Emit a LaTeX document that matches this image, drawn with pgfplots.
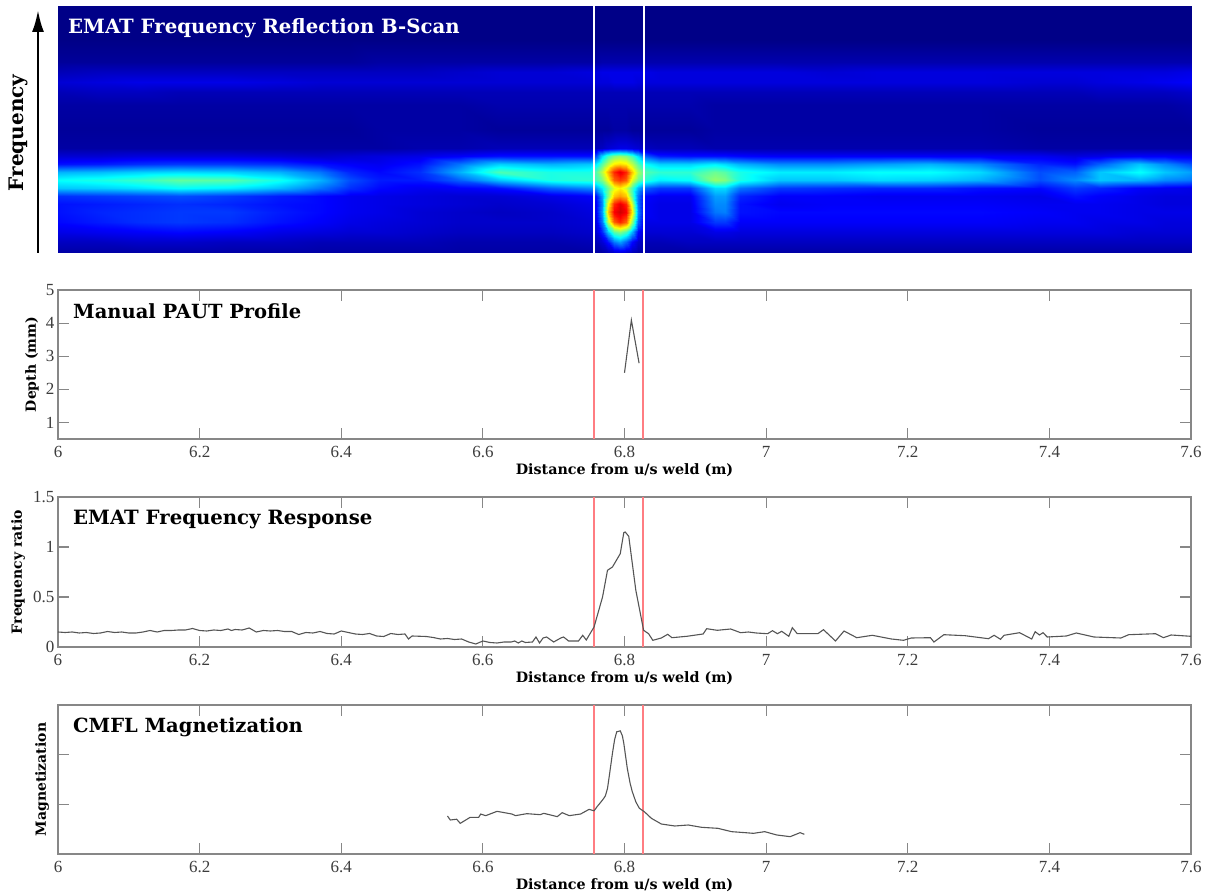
\documentclass[border=0pt]{standalone}
\usepackage{pgfplots}
\pgfplotsset{compat=1.18}
\usepackage{fontspec}
\setmainfont{Liberation Serif}
\newfontfamily\bk{DejaVu Serif}
\usetikzlibrary{arrows.meta}
\definecolor{axg}{RGB}{135,135,135}
\definecolor{tl}{RGB}{60,60,60}
\definecolor{rl}{RGB}{255,125,130}
\definecolor{cv}{RGB}{85,85,85}
\pgfplotsset{
 colormap={jetx}{rgb255(0cm)=(0,0,135) rgb255(1cm)=(0,0,255) rgb255(3cm)=(0,255,255) rgb255(5cm)=(255,255,0) rgb255(7cm)=(255,0,0) rgb255(8cm)=(128,0,0)},
 panel/.style={scale only axis,width=1133pt,xmin=6,xmax=7.6,
  xtick={6,6.2,6.4,6.6,6.8,7,7.2,7.4,7.6},
  tick align=inside,major tick length=11pt,
  tick style={axg,line width=1.2pt},
  axis line style={axg,line width=1.5pt},
  /pgf/number format/assume math mode=true,
  tick label style={font=\fontsize{17}{19}\selectfont,text=tl},
  xticklabel style={yshift=-4pt},
  every axis x label/.style={at={(axis description cs:0.5,0)},anchor=center,yshift=-31pt,font=\bk\bfseries\fontsize{14.3}{16}\selectfont},
  xlabel={Distance from u/s weld (m)},
 },
 yl/.style={every axis y label/.style={at={(axis description cs:#1,0.5)},rotate=90,anchor=center,font=\bk\bfseries\fontsize{14}{16}\selectfont}},
 redl/.style={rl,line width=1.2pt,forget plot},
 curve/.style={cv,line width=1.1pt,forget plot},
}
\begin{document}
\begin{tikzpicture}[x=1pt,y=1pt]
\path[use as bounding box] (0,0) rectangle (1209,894);
\begin{axis}[at={(58pt,641pt)},anchor=south west,scale only axis,width=1134pt,height=247pt,
 xmin=6,xmax=7.602,ymin=0,ymax=247,hide axis,view={0}{90},colormap name=jetx,point meta min=0,point meta max=100]
\addplot3[surf,shader=interp,mesh/cols=39,forget plot] table[x index=0,y index=1,z index=2] {
x y z
6.000 0 3
6.060 0 3
6.116 0 3
6.173 0 3
6.243 0 3
6.314 0 3
6.370 0 3
6.413 0 3
6.455 0 3
6.512 0 3
6.568 0 3
6.625 0 3
6.696 0 3
6.752 0 3
6.760 0 3
6.769 0 3
6.777 0 5
6.786 0 7
6.794 0 8
6.803 0 7
6.811 0 5
6.820 0 3
6.828 0 3
6.851 0 3
6.893 0 3
6.928 0 3
6.942 0 3
6.964 0 3
7.020 0 3
7.091 0 3
7.161 0 3
7.232 0 3
7.303 0 3
7.387 0 3
7.437 0 3
7.472 0 3
7.529 0 3
7.564 0 3
7.602 0 3
6.000 11 6
6.060 11 6
6.116 11 7
6.173 11 7
6.243 11 6
6.314 11 6
6.370 11 5
6.413 11 5
6.455 11 5
6.512 11 5
6.568 11 4
6.625 11 4
6.696 11 4
6.752 11 5
6.760 11 5
6.769 11 8
6.777 11 14
6.786 11 24
6.794 11 28
6.803 11 22
6.811 11 13
6.820 11 7
6.828 11 5
6.851 11 5
6.893 11 6
6.928 11 6
6.942 11 6
6.964 11 6
7.020 11 6
7.091 11 6
7.161 11 6
7.232 11 6
7.303 11 6
7.387 11 6
7.437 11 6
7.472 11 6
7.529 11 6
7.564 11 6
7.602 11 6
6.000 21 10
6.060 21 11
6.116 21 12
6.173 21 13
6.243 21 12
6.314 21 10
6.370 21 9
6.413 21 8
6.455 21 8
6.512 21 7
6.568 21 6
6.625 21 6
6.696 21 6
6.752 21 7
6.760 21 8
6.769 21 16
6.777 21 32
6.786 21 46
6.794 21 50
6.803 21 44
6.811 21 30
6.820 21 13
6.828 21 8
6.851 21 8
6.893 21 8
6.928 21 10
6.942 21 10
6.964 21 9
7.020 21 9
7.091 21 9
7.161 21 9
7.232 21 9
7.303 21 9
7.387 21 9
7.437 21 9
7.472 21 9
7.529 21 8
7.564 21 8
7.602 21 8
6.000 31 13
6.060 31 15
6.116 31 17
6.173 31 18
6.243 31 17
6.314 31 14
6.370 31 12
6.413 31 10
6.455 31 9
6.512 31 8
6.568 31 7
6.625 31 7
6.696 31 7
6.752 31 8
6.760 31 10
6.769 31 24
6.777 31 56
6.786 31 78
6.794 31 84
6.803 31 78
6.811 31 52
6.820 31 22
6.828 31 10
6.851 31 10
6.893 31 10
6.928 31 18
6.942 31 18
6.964 31 12
7.020 31 12
7.091 31 12
7.161 31 12
7.232 31 12
7.303 31 12
7.387 31 11
7.437 31 11
7.472 31 10
7.529 31 10
7.564 31 9
7.602 31 9
6.000 41 14
6.060 41 16
6.116 41 17
6.173 41 18
6.243 41 18
6.314 41 15
6.370 41 13
6.413 41 11
6.455 41 10
6.512 41 8
6.568 41 7
6.625 41 6
6.696 41 7
6.752 41 9
6.760 41 12
6.769 41 28
6.777 41 68
6.786 41 88
6.794 41 92
6.803 41 88
6.811 41 64
6.820 41 26
6.828 41 12
6.851 41 10
6.893 41 10
6.928 41 24
6.942 41 25
6.964 41 14
7.020 41 13
7.091 41 13
7.161 41 13
7.232 41 13
7.303 41 13
7.387 41 12
7.437 41 11
7.472 41 11
7.529 41 10
7.564 41 10
7.602 41 10
6.000 49 14
6.060 49 15
6.116 49 16
6.173 49 17
6.243 49 16
6.314 49 14
6.370 49 13
6.413 49 11
6.455 49 10
6.512 49 9
6.568 49 8
6.625 49 7
6.696 49 8
6.752 49 10
6.760 49 12
6.769 49 26
6.777 49 62
6.786 49 84
6.794 49 90
6.803 49 84
6.811 49 58
6.820 49 24
6.828 49 12
6.851 49 10
6.893 49 10
6.928 49 26
6.942 49 26
6.964 49 14
7.020 49 11
7.091 49 12
7.161 49 12
7.232 49 12
7.303 49 12
7.387 49 11
7.437 49 11
7.472 49 11
7.529 49 10
7.564 49 9
7.602 49 9
6.000 57 17
6.060 57 18
6.116 57 19
6.173 57 20
6.243 57 18
6.314 57 15
6.370 57 13
6.413 57 11
6.455 57 10
6.512 57 9
6.568 57 8
6.625 57 8
6.696 57 10
6.752 57 12
6.760 57 14
6.769 57 28
6.777 57 50
6.786 57 68
6.794 57 72
6.803 57 68
6.811 57 46
6.820 57 24
6.828 57 13
6.851 57 11
6.893 57 11
6.928 57 28
6.942 57 28
6.964 57 16
7.020 57 12
7.091 57 12
7.161 57 11
7.232 57 11
7.303 57 11
7.387 57 10
7.437 57 14
7.472 57 12
7.529 57 10
7.564 57 9
7.602 57 9
6.000 65 32
6.060 65 33
6.116 65 35
6.173 65 38
6.243 65 36
6.314 65 31
6.370 65 24
6.413 65 17
6.455 65 13
6.512 65 11
6.568 65 12
6.625 65 14
6.696 65 22
6.752 65 26
6.760 65 28
6.769 65 36
6.777 65 48
6.786 65 60
6.794 65 64
6.803 65 58
6.811 65 44
6.820 65 30
6.828 65 22
6.851 65 18
6.893 65 18
6.928 65 34
6.942 65 34
6.964 65 24
7.020 65 18
7.091 65 17
7.161 65 16
7.232 65 16
7.303 65 14
7.387 65 13
7.437 65 18
7.472 65 16
7.529 65 12
7.564 65 11
7.602 65 10
6.000 73 38
6.060 73 40
6.116 73 43
6.173 73 47
6.243 73 46
6.314 73 39
6.370 73 30
6.413 73 20
6.455 73 15
6.512 73 15
6.568 73 22
6.625 73 32
6.696 73 40
6.752 73 42
6.760 73 44
6.769 73 50
6.777 73 62
6.786 73 78
6.794 73 82
6.803 73 78
6.811 73 60
6.820 73 48
6.828 73 42
6.851 73 36
6.893 73 38
6.928 73 52
6.942 73 50
6.964 73 40
7.020 73 32
7.091 73 32
7.161 73 34
7.232 73 33
7.303 73 30
7.387 73 20
7.437 73 26
7.472 73 32
7.529 73 30
7.564 73 26
7.602 73 24
6.000 81 30
6.060 81 31
6.116 81 33
6.173 81 34
6.243 81 33
6.314 81 30
6.370 81 24
6.413 81 16
6.455 81 13
6.512 81 17
6.568 81 30
6.625 81 45
6.696 81 40
6.752 81 40
6.760 81 46
6.769 81 56
6.777 81 70
6.786 81 84
6.794 81 90
6.803 81 84
6.811 81 68
6.820 81 54
6.828 81 46
6.851 81 42
6.893 81 42
6.928 81 48
6.942 81 46
6.964 81 40
7.020 81 36
7.091 81 36
7.161 81 38
7.232 81 38
7.303 81 34
7.387 81 20
7.437 81 22
7.472 81 32
7.529 81 38
7.564 81 32
7.602 81 28
6.000 89 14
6.060 89 15
6.116 89 17
6.173 89 18
6.243 89 18
6.314 89 17
6.370 89 14
6.413 89 12
6.455 89 11
6.512 89 14
6.568 89 24
6.625 89 33
6.696 89 30
6.752 89 32
6.760 89 36
6.769 89 46
6.777 89 56
6.786 89 64
6.794 89 66
6.803 89 64
6.811 89 56
6.820 89 46
6.828 89 38
6.851 89 33
6.893 89 33
6.928 89 36
6.942 89 34
6.964 89 30
7.020 89 26
7.091 89 26
7.161 89 28
7.232 89 30
7.303 89 26
7.387 89 16
7.437 89 14
7.472 89 22
7.529 89 32
7.564 89 26
7.602 89 20
6.000 97 8
6.060 97 8
6.116 97 9
6.173 97 9
6.243 97 9
6.314 97 8
6.370 97 7
6.413 97 8
6.455 97 9
6.512 97 10
6.568 97 12
6.625 97 14
6.696 97 14
6.752 97 14
6.760 97 20
6.769 97 34
6.777 97 44
6.786 97 50
6.794 97 52
6.803 97 50
6.811 97 44
6.820 97 34
6.828 97 22
6.851 97 15
6.893 97 14
6.928 97 14
6.942 97 14
6.964 97 13
7.020 97 12
7.091 97 12
7.161 97 12
7.232 97 12
7.303 97 12
7.387 97 11
7.437 97 9
7.472 97 10
7.529 97 12
7.564 97 12
7.602 97 11
6.000 105 3
6.060 105 3
6.116 105 3
6.173 105 3
6.243 105 3
6.314 105 3
6.370 105 3
6.413 105 3
6.455 105 3
6.512 105 4
6.568 105 4
6.625 105 5
6.696 105 5
6.752 105 5
6.760 105 5
6.769 105 6
6.777 105 8
6.786 105 9
6.794 105 10
6.803 105 10
6.811 105 9
6.820 105 8
6.828 105 6
6.851 105 5
6.893 105 5
6.928 105 4
6.942 105 4
6.964 105 4
7.020 105 4
7.091 105 4
7.161 105 4
7.232 105 4
7.303 105 4
7.387 105 3
7.437 105 3
7.472 105 3
7.529 105 3
7.564 105 3
7.602 105 3
6.000 123 2
6.060 123 2
6.116 123 2
6.173 123 2
6.243 123 2
6.314 123 2
6.370 123 2
6.413 123 2
6.455 123 3
6.512 123 3
6.568 123 3
6.625 123 2
6.696 123 2
6.752 123 2
6.760 123 2
6.769 123 2
6.777 123 2
6.786 123 3
6.794 123 3
6.803 123 3
6.811 123 2
6.820 123 2
6.828 123 2
6.851 123 2
6.893 123 2
6.928 123 3
6.942 123 3
6.964 123 3
7.020 123 3
7.091 123 3
7.161 123 3
7.232 123 3
7.303 123 3
7.387 123 2
7.437 123 2
7.472 123 2
7.529 123 2
7.564 123 2
7.602 123 2
6.000 148 3
6.060 148 3
6.116 148 3
6.173 148 3
6.243 148 3
6.314 148 3
6.370 148 3
6.413 148 3
6.455 148 3
6.512 148 3
6.568 148 3
6.625 148 4
6.696 148 4
6.752 148 4
6.760 148 4
6.769 148 4
6.777 148 4
6.786 148 4
6.794 148 4
6.803 148 4
6.811 148 4
6.820 148 4
6.828 148 4
6.851 148 4
6.893 148 4
6.928 148 3
6.942 148 3
6.964 148 3
7.020 148 3
7.091 148 3
7.161 148 3
7.232 148 3
7.303 148 3
7.387 148 3
7.437 148 3
7.472 148 3
7.529 148 3
7.564 148 3
7.602 148 4
6.000 161 5
6.060 161 6
6.116 161 6
6.173 161 5
6.243 161 5
6.314 161 5
6.370 161 5
6.413 161 5
6.455 161 5
6.512 161 5
6.568 161 5
6.625 161 5
6.696 161 5
6.752 161 5
6.760 161 5
6.769 161 5
6.777 161 5
6.786 161 5
6.794 161 5
6.803 161 5
6.811 161 5
6.820 161 5
6.828 161 5
6.851 161 5
6.893 161 5
6.928 161 5
6.942 161 5
6.964 161 5
7.020 161 5
7.091 161 5
7.161 161 5
7.232 161 5
7.303 161 5
7.387 161 5
7.437 161 5
7.472 161 6
7.529 161 6
7.564 161 6
7.602 161 7
6.000 171 8
6.060 171 9
6.116 171 10
6.173 171 10
6.243 171 10
6.314 171 9
6.370 171 8
6.413 171 8
6.455 171 8
6.512 171 8
6.568 171 8
6.625 171 8
6.696 171 8
6.752 171 8
6.760 171 9
6.769 171 9
6.777 171 9
6.786 171 10
6.794 171 10
6.803 171 10
6.811 171 10
6.820 171 9
6.828 171 9
6.851 171 9
6.893 171 9
6.928 171 9
6.942 171 9
6.964 171 9
7.020 171 9
7.091 171 9
7.161 171 9
7.232 171 9
7.303 171 9
7.387 171 8
7.437 171 8
7.472 171 9
7.529 171 10
7.564 171 11
7.602 171 12
6.000 181 5
6.060 181 6
6.116 181 6
6.173 181 6
6.243 181 6
6.314 181 6
6.370 181 6
6.413 181 6
6.455 181 6
6.512 181 6
6.568 181 7
6.625 181 8
6.696 181 8
6.752 181 9
6.760 181 9
6.769 181 10
6.777 181 10
6.786 181 10
6.794 181 10
6.803 181 10
6.811 181 10
6.820 181 10
6.828 181 10
6.851 181 9
6.893 181 9
6.928 181 9
6.942 181 9
6.964 181 9
7.020 181 9
7.091 181 8
7.161 181 9
7.232 181 9
7.303 181 9
7.387 181 9
7.437 181 9
7.472 181 9
7.529 181 9
7.564 181 9
7.602 181 10
6.000 191 2
6.060 191 2
6.116 191 2
6.173 191 2
6.243 191 2
6.314 191 2
6.370 191 2
6.413 191 2
6.455 191 3
6.512 191 3
6.568 191 3
6.625 191 3
6.696 191 3
6.752 191 3
6.760 191 3
6.769 191 4
6.777 191 4
6.786 191 4
6.794 191 4
6.803 191 4
6.811 191 4
6.820 191 4
6.828 191 4
6.851 191 4
6.893 191 4
6.928 191 4
6.942 191 4
6.964 191 4
7.020 191 4
7.091 191 4
7.161 191 4
7.232 191 4
7.303 191 4
7.387 191 4
7.437 191 4
7.472 191 4
7.529 191 4
7.564 191 4
7.602 191 4
6.000 213 0
6.060 213 0
6.116 213 0
6.173 213 0
6.243 213 0
6.314 213 0
6.370 213 0
6.413 213 0
6.455 213 0
6.512 213 0
6.568 213 0
6.625 213 0
6.696 213 0
6.752 213 0
6.760 213 0
6.769 213 0
6.777 213 0
6.786 213 0
6.794 213 0
6.803 213 0
6.811 213 0
6.820 213 0
6.828 213 0
6.851 213 0
6.893 213 0
6.928 213 0
6.942 213 0
6.964 213 0
7.020 213 0
7.091 213 0
7.161 213 0
7.232 213 0
7.303 213 0
7.387 213 0
7.437 213 0
7.472 213 0
7.529 213 0
7.564 213 0
7.602 213 0
6.000 247 0
6.060 247 0
6.116 247 0
6.173 247 0
6.243 247 0
6.314 247 0
6.370 247 0
6.413 247 0
6.455 247 0
6.512 247 0
6.568 247 0
6.625 247 0
6.696 247 0
6.752 247 0
6.760 247 0
6.769 247 0
6.777 247 0
6.786 247 0
6.794 247 0
6.803 247 0
6.811 247 0
6.820 247 0
6.828 247 0
6.851 247 0
6.893 247 0
6.928 247 0
6.942 247 0
6.964 247 0
7.020 247 0
7.091 247 0
7.161 247 0
7.232 247 0
7.303 247 0
7.387 247 0
7.437 247 0
7.472 247 0
7.529 247 0
7.564 247 0
7.602 247 0
};
\addplot3[white,line width=2.2pt,forget plot] coordinates {(6.757,0,100) (6.757,247,100)};
\addplot3[white,line width=2.2pt,forget plot] coordinates {(6.828,0,100) (6.828,247,100)};
\end{axis}

\begin{axis}[panel,yl=-0.0229,at={(58pt,455pt)},anchor=south west,height=149pt,ymin=0.5,ymax=5,ytick={1,2,3,4,5},
 ylabel={Depth (mm)}]
\addplot[redl] coordinates {(6.757,0.5) (6.757,5)};
\addplot[redl] coordinates {(6.826,0.5) (6.826,5)};
\addplot[curve] coordinates {(6.800,2.50) (6.8097,4.09) (6.8206,2.79)};
\end{axis}

\begin{axis}[panel,yl=-0.0353,at={(58pt,247pt)},anchor=south west,height=150pt,ymin=0,ymax=1.5,ytick={0,0.5,1,1.5},
 ylabel={Frequency ratio}]
\addplot[redl] coordinates {(6.757,0) (6.757,1.5)};
\addplot[redl] coordinates {(6.826,0) (6.826,1.5)};
\addplot[curve] coordinates {
(6.00,.15)(6.01,.145)(6.02,.15)(6.03,.14)(6.04,.145)(6.05,.135)(6.06,.14)(6.07,.155)(6.08,.145)(6.09,.15)
(6.10,.14)(6.11,.14)(6.12,.15)(6.13,.165)(6.14,.15)(6.15,.165)(6.16,.165)(6.17,.17)(6.18,.17)(6.19,.185)
(6.20,.165)(6.21,.16)(6.22,.17)(6.23,.165)(6.24,.18)(6.245,.165)(6.25,.175)(6.26,.17)(6.27,.19)(6.28,.15)
(6.29,.165)(6.30,.16)(6.31,.165)(6.32,.155)(6.33,.155)(6.34,.125)(6.35,.145)(6.36,.14)(6.37,.155)(6.38,.135)
(6.39,.13)(6.40,.16)(6.41,.145)(6.42,.13)(6.43,.125)(6.44,.135)(6.45,.11)(6.46,.105)(6.47,.135)(6.48,.125)
(6.49,.13)(6.495,.08)(6.50,.11)(6.52,.105)(6.53,.095)(6.54,.08)(6.55,.085)(6.56,.075)(6.57,.08)(6.58,.05)
(6.59,.03)(6.60,.06)(6.61,.045)(6.62,.04)(6.63,.05)(6.64,.05)(6.645,.06)(6.65,.04)(6.655,.06)(6.66,.045)
(6.67,.05)(6.675,.1)(6.68,.04)(6.685,.09)(6.69,.1)(6.70,.05)(6.71,.09)(6.714,.1)(6.721,.06)(6.735,.06)
(6.741,.117)(6.746,.07)(6.757,.2)(6.769,.5)(6.776,.767)(6.783,.8)(6.794,.933)(6.799,1.143)(6.801,1.15)(6.806,1.107)
(6.816,.567)(6.827,.167)(6.834,.133)(6.840,.067)(6.852,.09)(6.861,.127)(6.867,.093)(6.888,.107)(6.911,.13)(6.916,.183)
(6.931,.167)(6.950,.18)(6.964,.143)(6.975,.15)(6.986,.14)(7.002,.133)(7.009,.163)(7.016,.133)(7.022,.157)(7.032,.107)
(7.037,.193)(7.044,.133)(7.073,.133)(7.081,.173)(7.098,.06)(7.110,.16)(7.128,.093)(7.150,.117)(7.177,.08)(7.194,.067)
(7.205,.09)(7.232,.093)(7.237,.05)(7.251,.123)(7.281,.113)(7.314,.083)(7.322,.117)(7.331,.077)(7.336,.117)(7.358,.143)
(7.375,.08)(7.380,.153)(7.386,.12)(7.391,.143)(7.397,.1)(7.424,.11)(7.438,.14)(7.463,.1)(7.501,.09)(7.512,.123)
(7.550,.133)(7.561,.093)(7.572,.12)(7.600,.107)};
\end{axis}

\begin{axis}[panel,yl=-0.0141,at={(58pt,40pt)},anchor=south west,height=149pt,ymin=0,ymax=3,ytick={1,2},yticklabels={},
 ylabel={Magnetization}]
\addplot[redl] coordinates {(6.757,0) (6.757,3)};
\addplot[redl] coordinates {(6.826,0) (6.826,3)};
\addplot[curve] coordinates {
(6.550,.765)(6.554,.685)(6.563,.70)(6.568,.617)(6.582,.738)(6.594,.738)(6.597,.805)(6.604,.772)(6.620,.859)(6.641,.805)
(6.646,.772)(6.662,.812)(6.681,.792)(6.686,.819)(6.705,.752)(6.712,.832)(6.722,.772)(6.738,.805)(6.750,.899)(6.757,.87)
(6.762,.966)(6.769,1.087)(6.773,1.17)(6.776,1.32)(6.779,1.62)(6.783,2.03)(6.786,2.3)(6.789,2.46)(6.794,2.48)(6.797,2.38)(6.799,2.23)(6.804,1.72)(6.808,1.42)(6.811,1.255)(6.816,1.05)(6.821,.92)
(6.828,.852)(6.838,.718)(6.852,.604)(6.871,.564)(6.890,.584)(6.909,.537)(6.932,.517)(6.951,.45)(6.970,.43)(6.982,.416)
(6.998,.45)(7.015,.383)(7.034,.349)(7.048,.43)(7.054,.396)};
\end{axis}

\draw[black,line width=2.5pt,-{Latex[length=22pt,width=12pt]}] (38,641) -- (38,884);
\node[rotate=90,anchor=center,font=\bk\bfseries\fontsize{20}{22}\selectfont] at (18,761) {Frequency};
\node[anchor=west,text=white,font=\bk\bfseries\fontsize{19.7}{21}\selectfont,inner sep=0pt] at (68,866) {EMAT Frequency Reflection B-Scan};
\node[anchor=west,font=\bk\bfseries\fontsize{19.5}{21}\selectfont,inner sep=0pt] at (73,583) {Manual PAUT Profile};
\node[anchor=west,font=\bk\bfseries\fontsize{19.7}{21}\selectfont,inner sep=0pt] at (73,374) {EMAT Frequency Response};
\node[anchor=west,font=\bk\bfseries\fontsize{19.5}{21}\selectfont,inner sep=0pt] at (73,167) {CMFL Magnetization};
\end{tikzpicture}
\end{document}
